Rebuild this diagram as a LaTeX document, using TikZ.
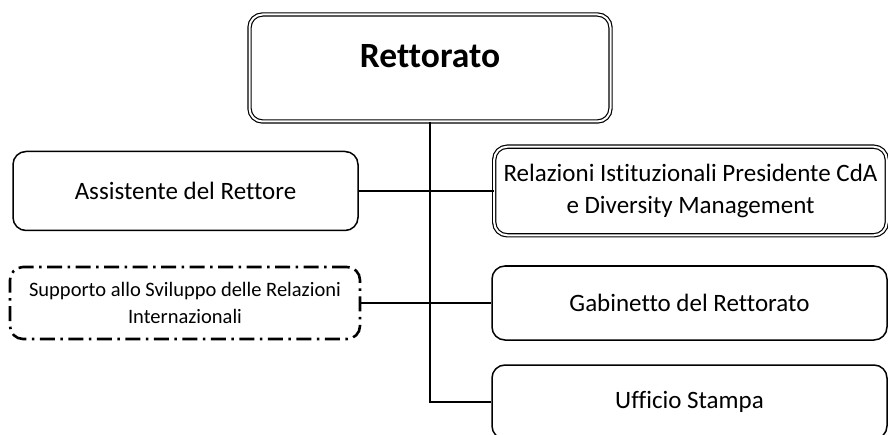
\documentclass[tikz,border=0pt]{standalone}
\usepackage{fontspec}
\setmainfont{Carlito}[Ligatures={NoCommon}]
\begin{document}
\begin{tikzpicture}[x=1pt,y=1pt,
  conn/.style={draw=black,line width=1.5pt},
  unitbox/.style={draw=black,line width=1.5pt,rounded corners=13pt,fill=white,align=center,inner sep=0pt,
    font=\fontsize{25}{32}\selectfont},
  dblbox/.style={unitbox,line width=1.2pt,double=white,double distance=2pt},
  dashbox/.style={unitbox,line width=2.6pt,dash pattern=on 15pt off 5.5pt on 2.5pt off 5.5pt,
    font=\fontsize{20.5}{27}\selectfont}
]
\useasboundingbox (0,0) rectangle (888,434);
\clip (0,0) rectangle (888,434);
\fill[white] (0,0) rectangle (888,434);
% nodes
\node[dblbox,minimum width=361pt,minimum height=107pt] (rett) at (430,366) {};
\node[font=\fontsize{35.5}{40}\selectfont\bfseries,inner sep=0pt] (rettlbl) at ([yshift=12pt]rett.center) {Rettorato};
\node[unitbox,minimum width=345pt,minimum height=79pt] (assist) at (185.5,243) {Assistente del Rettore};
\node[dashbox,minimum width=350pt,minimum height=72pt] (supp) at (185,131) {Supporto allo Sviluppo delle Relazioni\\Internazionali};
\node[dblbox,minimum width=392.6pt,minimum height=88.6pt] (rel) at (690.5,243) {Relazioni Istituzionali Presidente CdA\\e Diversity Management};
\node[unitbox,minimum width=395pt,minimum height=74pt] (gab) at (689.5,131) {Gabinetto del Rettorato};
\node[unitbox,minimum width=395pt,minimum height=74pt] (uff) at (689.5,32) {Ufficio Stampa};
% connectors
\draw[conn] (rett.south) |- (uff.west);
\draw[conn] (assist.east) -- (rel.west);
\draw[conn] (supp.east) -- (gab.west);
\end{tikzpicture}
\end{document}
